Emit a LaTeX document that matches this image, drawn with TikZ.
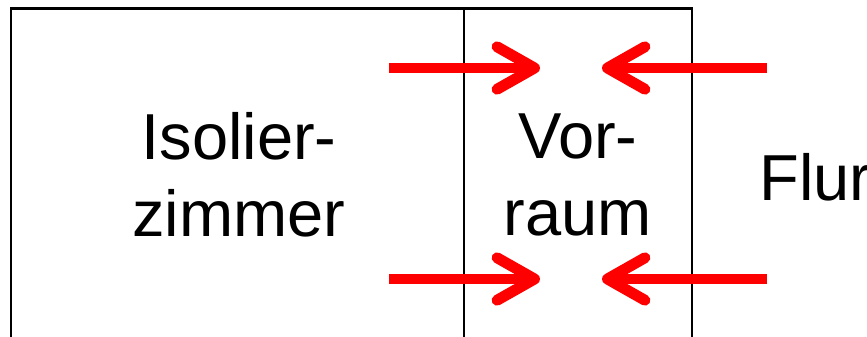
\documentclass[tikz,border=0pt]{standalone}
\usepackage{fontspec}
\setmainfont{Liberation Sans}
\usetikzlibrary{arrows.meta, positioning}
\definecolor{flowred}{RGB}{255, 0, 0}

\tikzset{
    wall/.style={line width=1.7pt, black},
    roomlabel/.style={font=\fontsize{37}{44}\selectfont, align=center, inner sep=0pt},
    airflow/.style={line width=6.2pt, flowred, -{Straight Barb[length=0.75cm, width=0.85cm, line cap=round, line join=round]}}
}

\begin{document}
\begin{tikzpicture}[x=0.02cm, y=-0.02cm]
    \useasboundingbox (0,0) rectangle (867,336);

    % Walls
    \draw[wall] (11,340) -- (11,8) -- (692,8) -- (692,340);
    \draw[wall] (464,8) -- (464,340);

    % Rooms
    \node[roomlabel] (isolier) at (239,175) {Isolier-\\zimmer};
    \node[roomlabel] (vorraum) at (578,175) {Vor-\\raum};
    \node[roomlabel, anchor=base west] (flur) at (759,200) {Flur};

    % Arrow end points
    \coordinate (inTopStart) at (389,68);
    \coordinate (inTopEnd) at (540,68);
    \coordinate (outTopStart) at (767,68);
    \coordinate (outTopEnd) at (602,68);
    \coordinate (inBotStart) at (389,279);
    \coordinate (inBotEnd) at (540,279);
    \coordinate (outBotStart) at (767,279);
    \coordinate (outBotEnd) at (602,279);

    % Air flow
    \draw[airflow] (inTopStart) -- (inTopEnd);
    \draw[airflow] (outTopStart) -- (outTopEnd);
    \draw[airflow] (inBotStart) -- (inBotEnd);
    \draw[airflow] (outBotStart) -- (outBotEnd);
\end{tikzpicture}
\end{document}
